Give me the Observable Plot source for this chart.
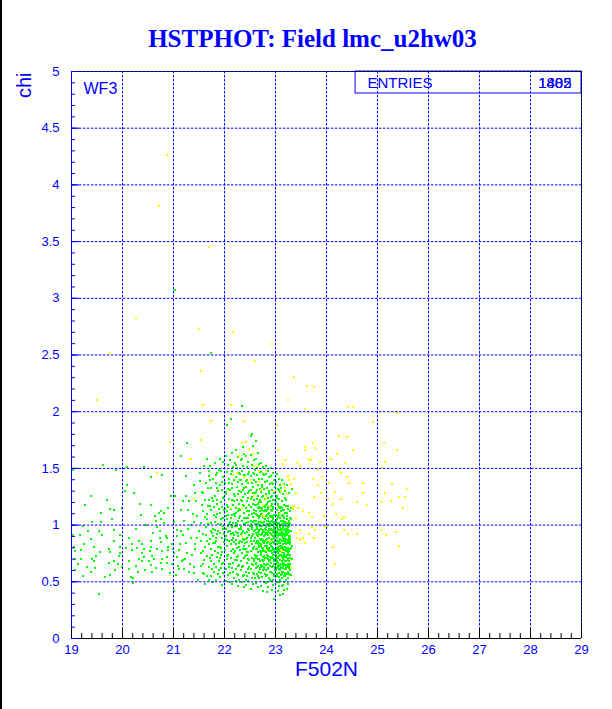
<!DOCTYPE html>
<html><head><meta charset="utf-8">
<script src="https://cdn.jsdelivr.net/npm/d3@7"></script>
<script src="https://cdn.jsdelivr.net/npm/@observablehq/plot@0.6"></script>
<style>
html,body{margin:0;padding:0;background:#fff;}
#wrap{position:relative;width:612px;height:709px;overflow:hidden;}
#edge{position:absolute;left:0;top:0;width:2px;height:709px;background:#000;}
</style>
</head><body><div id="wrap"><div id="chart"></div><div id="edge"></div></div>
<script>
// ---- data ----
const titleText = "HSTPHOT: Field lmc_u2hw03";
const xLabel = "F502N";
const yLabel = "chi";
const panelName = "WF3";
const statsName = "ENTRIES";
const statsValues = ["1802", "1485"];
const xTicks = [19,20,21,22,23,24,25,26,27,28,29];
const yTicks = [0,0.5,1,1.5,2,2.5,3,3.5,4,4.5,5];

const greenLeft = [
[19.05,.81],[19.07,.77],[19.18,.78],[19.25,.83],[19.44,.81],[19.48,.73],[19.56,.76],[19.73,.79],[19.76,.76],[19.95,.81],[19.96,.75],[20.07,.80],
[19.06,.70],[19.18,.70],[19.41,.70],[19.45,.68],[19.74,.67],[19.83,.68],[19.91,.66],[19.93,.73],[19.06,.60],[19.22,.55],[19.39,.59],[19.66,.54],
[19.76,.56],[19.86,.60],[19.99,.63],[19.53,.39],[19.02,.91],[19.16,.91],[19.39,.88],[19.54,.95],[19.59,.91],[19.83,.96],[19.83,.86],[19.95,.91],
[19.23,.99],[19.40,1.03],[19.57,1.03],[19.79,1.05],[19.84,1.13],[19.99,1.15],[19.75,1.14],[19.57,1.11],[19.70,1.22],[19.39,1.26],[19.62,1.53],
[19.88,1.49],[19.03,1.49],[20.08,1.51],[20.08,1.35],[20.04,1.30],[19.12,.66],[19.30,.63],[19.27,1.18],[19.47,.62],[19.33,.95],
[20.13,.89],[20.18,.83],[20.33,.86],[20.39,.83],[20.42,.79],[20.55,.86],[20.56,.81],[20.18,.78],[20.29,.80],[20.38,.75],[20.43,.72],[20.54,.77],
[20.58,.73],[20.13,.68],[20.26,.64],[20.33,.70],[20.39,.68],[20.51,.68],[20.55,.65],[20.12,.61],[20.17,.54],[20.21,.53],[20.30,.59],[20.44,.60],
[20.58,.59],[20.21,.49],[20.22,1.28],[20.35,1.19],[20.56,1.18],[20.43,1.51],[20.55,1.42],[20.65,1.04],[20.75,1.05],[20.81,1.02],[20.71,1.11],
[20.75,1.12],[20.82,1.11],[20.63,1.08],[20.89,1.15],[20.78,1.44],[20.68,.98],[20.73,.95],[20.73,.89],[20.75,.85],[20.85,.90],[20.88,.89],
[20.89,.81],[20.97,.83],[20.67,.79],[20.77,.77],[20.78,.70],[20.88,.72],[20.89,.78],[20.99,.79],[21.01,.75],[20.61,.70],[20.75,.67],[20.88,.67],
[20.97,.66],[20.65,.62],[20.78,.61],[20.93,.58],[20.95,1.26],[21.03,1.26],[21.01,1.03],[20.26,.97],[20.47,1.00],[20.36,1.09],[20.60,.93],
[21.07,.96],[21.07,.90],[21.14,.95],[21.19,.91],[21.24,.84],[21.35,.89],[21.42,.83],[21.46,.89],[21.53,.86],[21.63,.91],[21.66,.86],[21.07,.72],
[21.11,.78],[21.18,.69],[21.27,.75],[21.37,.74],[21.42,.79],[21.54,.75],[21.59,.69],[21.69,.63],[21.08,.64],[21.16,.68],[21.22,.70],[21.33,.66],
[21.40,.63],[21.57,.66],[21.05,.56],[21.10,.61],[21.20,.61],[21.31,.59],[21.40,.58],[21.58,.58],[21.15,1.13],[21.29,1.13],[21.39,1.10],[21.46,1.08],
[21.57,1.12],[21.66,1.10],[21.20,1.04],[21.40,1.03],[21.53,1.02],[21.66,1.05],[21.19,1.21],[21.31,1.21],[21.44,1.21],[21.61,1.22],[21.69,1.22],
[21.25,1.26],[21.42,1.28],[21.58,1.28],[21.67,1.33],[21.40,1.35],[21.52,1.39],[21.25,1.43],[21.69,1.43],[21.70,1.48],[21.01,.42],[21.14,1.61],
[21.26,1.72],[21.66,1.58],[21.48,.52],[21.62,.48],[21.28,.97],[21.50,.95],[21.12,.83],[21.34,1.00],
[21.02,3.07],[21.74,2.52],[22.35,2.05]
];

const greenCore = [
[21.72,1.52],[21.78,1.41],[21.74,1.33],[21.76,1.24],[21.71,1.17],[21.79,1.09],[21.73,1.02],[21.77,.97],[21.75,.93],[21.71,.88],[21.78,.84],[21.74,.79],[21.76,.74],[21.72,.71],[21.79,.66],[21.75,.61],[21.73,.55],[21.77,.50],[21.74,1.13],[21.78,.90],
[21.82,1.55],[21.86,1.46],[21.84,1.37],[21.88,1.30],[21.81,1.26],[21.85,1.19],[21.89,1.14],[21.83,1.07],[21.87,1.01],[21.82,.96],[21.86,.92],[21.84,.86],[21.88,.81],[21.81,.77],[21.85,.72],[21.89,.68],[21.83,.63],[21.87,.57],[21.84,.52],[21.86,1.10],[21.82,.84],[21.88,.95],
[21.92,1.58],[21.97,1.56],[21.94,1.48],[21.98,1.42],[21.91,1.35],[21.95,1.31],[21.99,1.25],[21.93,1.20],[21.96,1.16],[21.92,1.11],[21.98,1.06],[21.94,1.01],[21.97,.97],[21.91,.93],[21.95,.89],[21.99,.85],[21.93,.80],[21.96,.76],[21.92,.71],[21.98,.67],[21.94,.62],[21.97,.58],[21.91,.54],[21.95,.47],[21.99,1.13],
[22.05,1.88],[22.02,1.61],[22.07,1.53],[22.04,1.47],[22.09,1.41],[22.01,1.37],[22.06,1.32],[22.03,1.27],[22.08,1.23],[22.05,1.18],[22.01,1.14],[22.07,1.09],[22.04,1.05],[22.09,1.01],[22.02,.97],[22.06,.94],[22.03,.90],[22.08,.86],[22.05,.82],[22.01,.78],[22.07,.74],[22.04,.70],[22.09,.66],[22.02,.61],[22.06,.56],[22.03,.51],[22.08,.95],[22.05,1.12],
[22.12,1.94],[22.14,1.64],[22.11,1.57],[22.17,1.51],[22.13,1.45],[22.19,1.40],[22.15,1.36],[22.11,1.31],[22.18,1.27],[22.14,1.22],[22.16,1.18],[22.12,1.14],[22.19,1.10],[22.13,1.06],[22.17,1.02],[22.15,.98],[22.11,.95],[22.18,.91],[22.14,.87],[22.12,.83],[22.16,.79],[22.19,.75],[22.13,.71],[22.17,.67],[22.15,.62],[22.11,.58],[22.18,.53],[22.14,.48],[22.16,.89],[22.12,1.00],
[22.23,1.66],[22.27,1.60],[22.21,1.55],[22.25,1.50],[22.29,1.46],[22.22,1.42],[22.26,1.38],[22.24,1.34],[22.28,1.30],[22.21,1.26],[22.25,1.22],[22.29,1.19],[22.23,1.15],[22.27,1.12],[22.21,1.08],[22.26,1.04],[22.24,1.01],[22.28,.97],[22.22,.94],[22.26,.90],[22.23,.87],[22.29,.84],[22.25,.80],[22.21,.77],[22.27,.73],[22.24,.69],[22.28,.65],[22.22,.61],[22.26,.56],[22.23,.51],[22.27,.46],[22.25,.99],[22.29,1.06],[22.22,.83],
[22.39,1.63],[22.36,1.69],[22.32,1.57],[22.37,1.52],[22.34,1.48],[22.38,1.44],[22.31,1.40],[22.35,1.36],[22.39,1.33],[22.33,1.29],[22.37,1.25],[22.32,1.22],[22.36,1.18],[22.34,1.15],[22.38,1.11],[22.31,1.08],[22.35,1.04],[22.39,1.01],[22.33,.98],[22.37,.95],[22.32,.92],[22.36,.88],[22.34,.85],[22.38,.82],[22.31,.78],[22.35,.75],[22.39,.71],[22.33,.68],[22.37,.64],[22.32,.60],[22.36,.55],[22.34,.50],[22.38,.45],[22.35,.93],[22.31,1.13],[22.39,.87],
[22.48,1.67],[22.42,1.61],[22.46,1.56],[22.44,1.51],[22.49,1.47],[22.41,1.44],[22.45,1.40],[22.47,1.37],[22.43,1.34],[22.49,1.30],[22.41,1.27],[22.46,1.24],[22.44,1.21],[22.48,1.18],[22.42,1.15],[22.45,1.12],[22.49,1.09],[22.43,1.06],[22.47,1.03],[22.41,1.00],[22.46,.97],[22.44,.94],[22.48,.91],[22.42,.88],[22.45,.85],[22.49,.82],[22.43,.79],[22.47,.76],[22.41,.73],[22.46,.70],[22.44,.67],[22.48,.63],[22.42,.59],[22.45,.55],[22.47,.51],[22.43,.47],[22.49,.96],[22.41,.84],[22.46,1.06],[22.44,.74],
[22.51,1.79],[22.54,1.80],[22.56,1.70],[22.52,1.62],[22.57,1.57],[22.53,1.53],[22.59,1.49],[22.55,1.46],[22.51,1.43],[22.58,1.40],[22.54,1.37],[22.56,1.34],[22.52,1.31],[22.59,1.28],[22.53,1.25],[22.57,1.22],[22.55,1.19],[22.51,1.16],[22.58,1.13],[22.54,1.10],[22.56,1.07],[22.52,1.04],[22.59,1.01],[22.53,.98],[22.57,.95],[22.55,.92],[22.51,.89],[22.58,.86],[22.54,.83],[22.56,.80],[22.52,.77],[22.59,.74],[22.53,.71],[22.57,.68],[22.55,.65],[22.51,.61],[22.58,.57],[22.54,.53],[22.56,.48],[22.52,.44],[22.57,1.11],[22.53,.90],[22.59,.96],[22.55,.79],[22.51,1.01],
[22.62,1.74],[22.66,1.64],[22.61,1.58],[22.68,1.54],[22.64,1.50],[22.69,1.47],[22.63,1.44],[22.67,1.41],[22.61,1.38],[22.65,1.35],[22.69,1.32],[22.62,1.29],[22.66,1.26],[22.64,1.23],[22.68,1.20],[22.61,1.18],[22.65,1.15],[22.69,1.12],[22.63,1.09],[22.67,1.06],[22.62,1.04],[22.66,1.01],[22.64,.98],[22.68,.96],[22.61,.93],[22.65,.90],[22.69,.88],[22.63,.85],[22.67,.82],[22.62,.79],[22.66,.76],[22.64,.73],[22.68,.70],[22.61,.67],[22.65,.64],[22.69,.61],[22.63,.57],[22.67,.53],[22.62,.49],[22.66,.45],[22.64,.91],[22.68,1.03],[22.61,1.10],[22.65,.83],[22.69,.77],[22.63,.97],[22.67,1.16],[22.62,.72],
[22.72,1.55],[22.76,1.51],[22.71,1.47],[22.78,1.44],[22.74,1.41],[22.79,1.38],[22.73,1.35],[22.77,1.32],[22.71,1.29],[22.75,1.26],[22.79,1.23],[22.72,1.20],[22.76,1.18],[22.74,1.15],[22.78,1.12],[22.71,1.10],[22.75,1.07],[22.79,1.05],[22.73,1.02],[22.77,1.00],[22.72,.97],[22.76,.95],[22.74,.92],[22.78,.90],[22.71,.87],[22.75,.85],[22.79,.82],[22.73,.80],[22.77,.77],[22.72,.75],[22.76,.72],[22.74,.69],[22.78,.66],[22.71,.63],[22.75,.60],[22.79,.57],[22.73,.54],[22.77,.50],[22.72,.46],[22.76,.42],[22.74,.88],[22.78,.94],[22.71,1.03],[22.75,.78],[22.79,.71],[22.73,1.13],[22.77,.84],[22.72,.65],[22.76,1.08],[22.74,.99],[22.78,.61],[22.71,.91],
[22.82,1.52],[22.86,1.48],[22.81,1.45],[22.88,1.42],[22.84,1.39],[22.89,1.36],[22.83,1.33],[22.87,1.30],[22.81,1.27],[22.85,1.24],[22.89,1.21],[22.82,1.18],[22.86,1.16],[22.84,1.13],[22.88,1.11],[22.81,1.08],[22.85,1.06],[22.89,1.03],[22.83,1.01],[22.87,.99],[22.82,.96],[22.86,.94],[22.84,.92],[22.88,.89],[22.81,.87],[22.85,.85],[22.89,.83],[22.83,.80],[22.87,.78],[22.82,.76],[22.86,.73],[22.84,.71],[22.88,.68],[22.81,.65],[22.85,.62],[22.89,.59],[22.83,.56],[22.87,.53],[22.82,.49],[22.86,.45],[22.84,.41],[22.88,.97],[22.81,1.00],[22.85,.91],[22.89,.86],[22.83,.74],[22.87,.69],[22.82,.82],[22.86,1.04],[22.84,1.09],[22.88,.77],[22.81,.93],[22.85,1.14],[22.89,.64],[22.83,.88],
[22.92,1.50],[22.96,1.46],[22.91,1.43],[22.98,1.40],[22.94,1.37],[22.99,1.34],[22.93,1.31],[22.97,1.28],[22.91,1.25],[22.95,1.22],[22.99,1.19],[22.92,1.17],[22.96,1.14],[22.94,1.12],[22.98,1.09],[22.91,1.07],[22.95,1.05],[22.99,1.02],[22.93,1.00],[22.97,.98],[22.92,.96],[22.96,.94],[22.94,.91],[22.98,.89],[22.91,.87],[22.95,.85],[22.99,.83],[22.93,.81],[22.97,.79],[22.92,.77],[22.96,.74],[22.94,.72],[22.98,.70],[22.91,.67],[22.95,.64],[22.99,.61],[22.93,.58],[22.97,.55],[22.92,.51],[22.96,.47],[22.94,.43],[22.97,.35],[22.98,.93],[22.91,.97],[22.95,.90],[22.99,.86],[22.93,.75],[22.97,.68],[22.92,.82],[22.96,1.03],[22.94,1.08],[22.98,.78],[22.91,.92],[22.95,1.16],[22.99,.63],[22.93,.88],[22.97,1.01],[22.92,.71],
[23.02,1.45],[23.06,1.41],[23.01,1.38],[23.08,1.35],[23.04,1.32],[23.09,1.29],[23.03,1.26],[23.07,1.23],[23.01,1.20],[23.05,1.18],[23.09,1.15],[23.02,1.13],[23.06,1.11],[23.04,1.08],[23.08,1.06],[23.01,1.04],[23.05,1.02],[23.09,1.00],[23.03,.98],[23.07,.96],[23.02,.94],[23.06,.92],[23.04,.90],[23.08,.88],[23.01,.86],[23.05,.84],[23.09,.82],[23.03,.80],[23.07,.78],[23.02,.76],[23.06,.73],[23.04,.71],[23.08,.69],[23.01,.66],[23.05,.63],[23.09,.60],[23.03,.57],[23.07,.54],[23.02,.50],[23.06,.46],[23.04,.42],[23.08,.38],[23.05,.97],[23.01,.91],[23.09,.87],[23.03,1.05],[23.07,1.09],[23.02,.83],[23.06,.79],[23.04,.75],[23.08,.93],[23.01,.70],[23.05,.67],[23.09,.74],[23.03,.62],[23.07,1.16],[23.02,1.01],[23.06,.58],
[23.12,1.40],[23.16,1.36],[23.11,1.33],[23.18,1.30],[23.14,1.27],[23.19,1.24],[23.13,1.21],[23.17,1.18],[23.11,1.16],[23.15,1.13],[23.19,1.11],[23.12,1.08],[23.16,1.06],[23.14,1.04],[23.18,1.02],[23.11,1.00],[23.15,.98],[23.19,.96],[23.13,.94],[23.17,.92],[23.12,.90],[23.16,.88],[23.14,.86],[23.18,.84],[23.11,.82],[23.15,.80],[23.19,.78],[23.13,.76],[23.17,.74],[23.12,.72],[23.16,.69],[23.14,.67],[23.18,.65],[23.11,.62],[23.15,.59],[23.19,.56],[23.13,.53],[23.17,.50],[23.12,.46],[23.16,.43],[23.14,.39],[23.18,.97],[23.11,.93],[23.15,.89],[23.19,.85],[23.13,1.01],[23.17,1.07],[23.12,.79],[23.16,.75],[23.14,.70],[23.18,.61],[23.11,.87],[23.15,1.09],[23.19,.68],[23.13,.57],
[23.22,1.35],[23.26,1.28],[23.21,1.22],[23.24,1.17],[23.28,1.12],[23.23,1.08],[23.27,1.04],[23.21,1.01],[23.25,.98],[23.29,.95],[23.22,.92],[23.26,.89],[23.24,.86],[23.28,.83],[23.21,.80],[23.25,.77],[23.29,.74],[23.23,.71],[23.27,.68],[23.22,.65],[23.26,.62],[23.24,.59],[23.28,.56],[23.21,.52],[23.25,.48],[23.23,.44],[23.27,.90],[23.22,.97],[23.26,1.02],[23.24,.75],[23.28,.79],[23.21,.87],[23.25,.84],[23.23,.63],[23.27,.57],[23.22,1.11],[23.26,.71],[23.24,.93],[23.28,.66],[23.21,.73],
[23.31,.95],[23.32,.82],[23.31,1.15],[23.33,.70],[23.32,1.32]
];

const greenExtra = [
[21.52,1.46],[21.55,1.18],[21.58,.92],[21.61,.81],[21.63,1.37],[21.66,.73],[21.68,1.01],[21.53,.64],[21.56,1.29],[21.59,.57],[21.62,1.07],[21.64,.98],[21.67,1.17],[21.69,.83],[21.71,1.40],[21.74,.68],[21.77,1.21],[21.79,.59],[21.81,1.03],[21.83,.89],[21.85,1.33],[21.87,.75],[21.89,1.49],[21.91,.81],[21.93,1.05],[21.95,.66],[21.97,1.24],[21.99,.92],[21.57,.77],[21.65,.55],[21.73,.95],[21.80,1.16],[21.90,.60],[21.96,1.38],[21.60,1.52],[21.70,.52],[21.86,1.22],[21.94,.74],[21.98,.99],[21.83,1.44],
[22.02,1.29],[22.04,.87],[22.06,1.16],[22.08,.63],[22.10,1.03],[22.12,.77],[22.14,1.33],[22.16,.93],[22.18,1.21],[22.20,.69],[22.22,1.11],[22.24,.57],[22.26,1.27],[22.28,.81],[22.30,1.45],[22.32,.97],[22.34,.63],[22.36,1.31],[22.38,1.06],[22.40,.79],[22.42,1.39],[22.44,.89],[22.46,.61],[22.48,1.12],[22.50,.99],[22.03,1.08],[22.07,.99],[22.11,.66],[22.15,1.48],[22.19,.85],[22.23,1.02],[22.27,.64],[22.31,.86],[22.35,1.21],[22.39,.56],[22.43,1.02],[22.47,1.28],[22.05,.73],[22.09,1.37],[22.13,.92],[22.17,.59],[22.21,.99],[22.25,.72],[22.29,1.14],[22.33,1.40],[22.37,.79],[22.41,.93],[22.45,.76],[22.49,.58],[22.01,.88],[22.14,1.09],[22.26,.93],[22.38,1.17],[22.46,1.45],[22.22,1.53],[22.34,1.58],[22.43,.52],[22.11,.50],[22.29,.52],[22.48,.69],
[22.51,1.23],[22.53,.66],[22.55,1.03],[22.57,.81],[22.59,1.18],[22.61,.71],[22.63,1.31],[22.65,.94],[22.67,.59],[22.69,1.08],[22.71,.83],[22.73,1.25],[22.75,.68],[22.77,1.06],[22.79,.91],[22.81,.55],[22.83,1.19],[22.85,.78],[22.87,1.01],[22.89,.72],[22.91,1.13],[22.93,.63],[22.95,.96],[22.97,1.22],[22.99,.79],[23.01,1.09],[23.03,.68],[23.05,.92],[23.07,1.31],[23.09,.64],[23.11,.97],[23.13,1.15],[23.15,.73],[23.17,.87],[23.19,1.03],[23.21,.61],[23.23,.95],[23.25,1.14],[23.27,.79],[23.29,.88],
[22.52,.86],[22.56,1.28],[22.60,.53],[22.64,.79],[22.68,.92],[22.72,.58],[22.76,.87],[22.80,1.13],[22.84,.66],[22.88,1.28],[22.92,.87],[22.96,.71],[23.00,.95],[23.04,1.19],[23.08,.77],[23.12,.66],[23.16,1.02],[23.20,.83],[23.24,.70],[23.28,1.01],
[22.54,.97],[22.58,.70],[22.62,1.12],[22.66,.86],[22.70,1.22],[22.74,.77],[22.78,1.03],[22.82,.93],[22.86,.61],[22.90,.99],[22.94,1.26],[22.98,.66],[23.02,.86],[23.06,1.01],[23.10,.56],[23.14,.91],[23.18,.73],[23.22,1.05],[23.26,.86],[23.30,1.05],
[22.55,.58],[22.59,.89],[22.63,.63],[22.67,1.00],[22.71,.74],[22.75,.96],[22.79,1.16],[22.83,.84],[22.87,.89],[22.91,.59],[22.95,1.07],[22.99,.91],[23.03,.72],[23.07,.85],[23.11,1.12],[23.15,.64],[23.19,.90],[23.23,.78],[23.27,.99],[23.29,.60],
[22.57,1.04],[22.61,.84],[22.65,1.08],[22.69,.68],[22.73,.93],[22.77,.63],[22.81,.98],[22.85,.70],[22.89,.93],[22.93,1.04],[22.97,.84],[23.01,.62],[23.05,1.07],[23.09,.91],[23.13,.81],[23.17,1.13],[23.21,.94],[23.25,.66],[22.66,.55],[22.84,.50],
[22.62,.62],[22.70,.99],[22.78,.73],[22.86,1.10],[22.94,.78],[23.02,1.24],[23.10,.96],[23.18,.55],[23.26,.74],[22.74,1.34],[22.90,.52],[23.06,.50],[22.58,1.45],[22.76,1.45],[22.96,1.36],[23.14,.47],[22.82,.60],[23.00,.74],[23.20,1.17],[22.68,.81]
];

const greenDense = [
[22.96,.52],[22.98,.57],[23.00,.60],[23.02,.55],[23.04,.64],[23.06,.61],[23.08,.52],[23.10,.66],[23.12,.59],[23.14,.62],[23.16,.55],[23.18,.58],[23.20,.63],[23.22,.57],[23.24,.53],[23.26,.65],[23.28,.60],[23.30,.56],
[22.97,.70],[22.99,.66],[23.01,.73],[23.03,.67],[23.05,.71],[23.07,.65],[23.09,.69],[23.11,.74],[23.13,.68],[23.15,.71],[23.17,.66],[23.19,.72],[23.21,.68],[23.23,.74],[23.25,.69],[23.27,.63],[23.29,.71],
[22.96,.80],[22.98,.76],[23.00,.83],[23.02,.78],[23.04,.81],[23.06,.77],[23.08,.84],[23.10,.80],[23.12,.76],[23.14,.83],[23.16,.78],[23.18,.81],[23.20,.77],[23.22,.84],[23.24,.80],[23.26,.77],[23.28,.85],[23.30,.80],
[22.97,.90],[22.99,.87],[23.01,.93],[23.03,.89],[23.05,.86],[23.07,.92],[23.09,.88],[23.11,.91],[23.13,.86],[23.15,.93],[23.17,.89],[23.19,.92],[23.21,.88],[23.23,.91],[23.25,.87],[23.27,.94],[23.29,.90],
[22.96,1.00],[22.98,.97],[23.00,1.03],[23.02,.99],[23.04,.96],[23.06,1.02],[23.08,.98],[23.10,1.04],[23.12,.97],[23.14,1.00],[23.16,.96],[23.18,1.03],[23.20,.99],[23.22,1.02],[23.24,.96],[23.26,1.00],[23.28,1.06],
[22.62,.66],[22.66,.70],[22.70,.62],[22.74,.64],[22.78,.69],[22.82,.71],[22.86,.66],[22.90,.69],[22.64,.86],[22.68,.84],[22.72,.82],[22.76,.80],[22.80,.86],[22.84,.82],[22.88,.80],[22.92,.84],
[22.63,1.01],[22.67,.95],[22.71,.99],[22.75,1.02],[22.79,.97],[22.83,1.04],[22.87,.96],[22.91,1.01],[22.65,1.19],[22.69,1.15],[22.73,1.10],[22.77,1.17],[22.81,1.12],[22.85,1.20],[22.89,1.08],[22.93,1.19]
];

const yellowPoints = [
[20.88,4.26],[20.71,3.81],[21.70,3.45],[20.27,2.83],[21.50,2.73],[22.17,2.70],[22.94,2.60],[19.76,2.52],[22.60,2.45],[21.54,2.36],[23.37,2.31],
[23.62,2.23],[23.76,2.22],[19.50,2.10],[23.24,2.10],[21.57,2.06],[22.12,2.06],[23.58,2.02],[24.43,2.04],[24.52,2.04],[25.39,1.99],[24.92,1.91],
[22.39,1.92],[21.74,1.92],[23.02,1.88],
[24.25,1.79],[24.41,1.78],[25.12,1.72],[23.74,1.72],[23.57,1.69],[23.58,1.66],[23.78,1.68],[24.52,1.66],[25.39,1.66],[24.21,1.63],[24.08,1.58],
[23.66,1.58],[23.70,1.57],[23.88,1.56],[24.37,1.55],[25.14,1.56],[23.20,1.57],[23.42,1.55],[23.49,1.52],[23.84,1.49],[24.24,1.49],[24.29,1.46],
[24.41,1.42],[25.11,1.50],[23.24,1.42],[23.37,1.41],[23.74,1.41],[23.92,1.42],[23.31,1.36],[23.84,1.35],[24.04,1.37],[24.44,1.37],[24.71,1.37],
[25.29,1.36],[25.58,1.32],[23.19,1.33],[23.41,1.28],[23.75,1.25],[23.90,1.28],[24.16,1.29],[24.72,1.28],[25.14,1.28],[25.43,1.25],[25.53,1.25],
[24.03,1.23],[24.12,1.19],[24.29,1.23],[24.60,1.20],[24.80,1.18],[25.07,1.20],[25.27,1.21],[25.50,1.15],[23.36,1.17],[23.44,1.15],[23.53,1.12],
[23.66,1.11],[23.71,1.07],[23.95,1.08],[24.18,1.10],[24.30,1.05],[24.34,1.07],[23.49,.96],[23.66,.92],[24.00,.98],[24.34,.96],[24.43,.92],
[24.60,.92],[25.07,.96],[25.16,.91],[25.36,.94],[23.48,.88],[23.75,.89],[23.57,.84],[24.13,.81],[25.43,.82],[23.41,.93],[23.54,.89],[23.22,1.27],
[23.33,1.16],
[22.35,1.72],[22.43,1.73],[22.48,1.67],[22.56,1.63],[22.65,1.52],[22.81,1.49],[23.14,1.54],[23.27,1.40],[23.15,1.36],[23.10,1.30],[22.67,1.38],
[22.71,1.31],[22.98,1.30],[23.35,1.14],[23.08,1.10],[23.40,1.06],[22.82,1.23],[22.90,1.16],[22.57,1.26],[23.78,.96],[23.43,.89],[23.49,.87],
[24.16,.66],[23.71,.98],[22.77,1.07],[22.90,.86],[23.10,.78],[22.81,.78],[22.51,1.40],[22.38,1.42],[22.25,1.46],[23.05,1.66],[23.25,1.43],
[20.94,1.73],[21.54,1.75],[21.35,1.58],[22.29,1.61],[22.58,1.52],[22.68,1.48],[22.16,1.44],[21.40,1.23],[22.81,1.26],[22.76,1.18],[22.13,1.15],
[22.34,1.15],[22.75,1.09],[23.12,.77],[23.31,.62],[22.34,.90],[20.67,1.46],[21.33,1.58],[21.41,1.23]
];

// annotation box (stats panel) in data units
const statsBox = [{x1: 24.57, x2: 29, y1: 4.806, y2: 5}];

const greenPoints = greenLeft.concat(greenCore, greenExtra, greenDense);
const xMinor = d3.range(19, 29.001, 0.2).map(v => +v.toFixed(2));
const yMinor = d3.range(0, 5.001, 0.1).map(v => +v.toFixed(2));
const sans = "'Liberation Sans', Arial, Helvetica, sans-serif";
const BLUE = "#0000ff";

const dotOpts = {x: d => d[0], y: d => d[1], symbol: "square", r: 1.13, stroke: null, shapeRendering: "crispEdges"};
const txt = {lineAnchor: "middle", fill: BLUE};

const chart = Plot.plot({
  width: 612, height: 709,
  marginLeft: 71, marginRight: 31, marginTop: 71, marginBottom: 71,
  x: {domain: [19, 29]},
  y: {domain: [0, 5]},
  style: {background: "#fff", fontFamily: sans},
  marks: [
    Plot.dot(greenPoints, {...dotOpts, fill: "#00ff00"}),
    Plot.dot(yellowPoints, {...dotOpts, fill: "#ffff00"}),
    // stats panel
    Plot.rect(statsBox, {x1: "x1", x2: "x2", y1: "y1", y2: "y2", fill: "none", stroke: BLUE, strokeWidth: 1}),
    Plot.text([statsName], {...txt, frameAnchor: "top-right", dx: -214, dy: 12, textAnchor: "start", fontSize: 15}),
    Plot.text(statsValues, {...txt, frameAnchor: "top-right", dx: -10, dy: 12, textAnchor: "end", fontSize: 15}),
    Plot.text([panelName], {...txt, frameAnchor: "top-left", dx: 12, dy: 17, textAnchor: "start", fontSize: 16}),
    // grid (dotted blue)
    Plot.ruleX(xTicks.slice(1, -1), {stroke: BLUE, strokeDasharray: "2.5,1.5", strokeWidth: 1}),
    Plot.ruleY(yTicks.slice(1, -1), {stroke: BLUE, strokeDasharray: "2.5,1.5", strokeWidth: 1}),
    // frame
    Plot.ruleY([5], {stroke: "#000", strokeDasharray: "2,2"}),
    Plot.ruleY([5], {stroke: BLUE, strokeDasharray: "2,2", strokeDashoffset: 2}),
    Plot.ruleX([29], {stroke: "#000", strokeDasharray: "2,2"}),
    Plot.ruleX([29], {stroke: BLUE, strokeDasharray: "2,2", strokeDashoffset: 2}),
    Plot.ruleX([19], {stroke: BLUE}),
    Plot.ruleY([0], {stroke: "#000"}),
    // inward ticks
    Plot.ruleY(yMinor, {x1: 19, x2: 19 + 4 / 51, stroke: BLUE}),
    Plot.ruleY(yTicks, {x1: 19, x2: 19 + 8 / 51, stroke: BLUE}),
    Plot.ruleX(xMinor, {y1: 0, y2: 5 / 113.4, stroke: "#000"}),
    Plot.ruleX(xTicks, {y1: 0, y2: 10 / 113.4, stroke: "#000"}),
    // tick labels
    Plot.axisX({ticks: xTicks, tickSize: 0, tickPadding: 6, fontSize: 13, fill: BLUE, label: null, tickFormat: d => String(d)}),
    Plot.axisY({ticks: yTicks, tickSize: 0, tickPadding: 12, fontSize: 13, fill: BLUE, label: null, tickFormat: d => String(d)}),
    // axis titles & title
    Plot.text([xLabel], {...txt, frameAnchor: "bottom", dy: 31, fontSize: 21}),
    Plot.text([yLabel], {...txt, frameAnchor: "top-left", rotate: -90, textAnchor: "end", dx: -47, dy: 1, fontSize: 20}),
    Plot.text([titleText], {...txt, frameAnchor: "top", dx: -14, dy: -33, fontSize: 25, fontWeight: "bold", fontFamily: "'Liberation Serif', 'Times New Roman', serif"})
  ]
});
document.getElementById("chart").appendChild(chart);
</script>
</body></html>
